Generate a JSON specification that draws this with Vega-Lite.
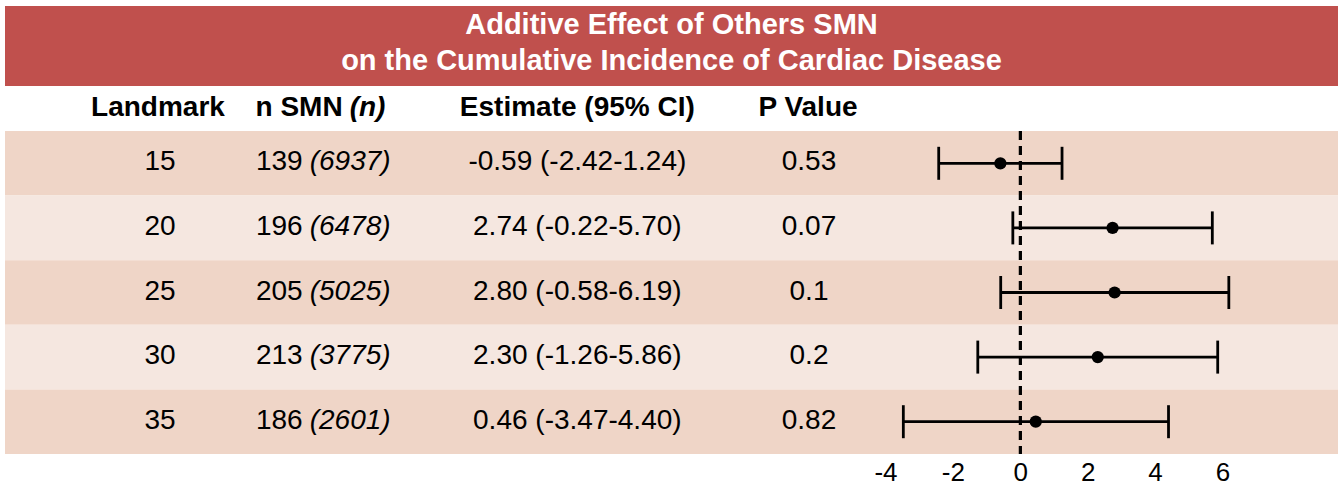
{
  "$schema": "https://vega.github.io/schema/vega-lite/v6.json",
  "padding": {"left": 5, "top": 6, "right": 0, "bottom": 0},
  "background": "white",
  "spacing": 0,
  "bounds": "flush",
  "config": {
    "view": {"stroke": null},
    "font": "Liberation Sans",
    "text": {"font": "Liberation Sans", "color": "black"},
    "axis": {"labelFont": "Liberation Sans"}
  },
  "resolve": {"scale": {"x": "independent", "y": "independent"}},
  "datasets": {
    "rows": [
      {"landmark": 15, "n": "139", "total": "(6937)", "ci": "-0.59 (-2.42-1.24)", "p": "0.53", "est": -0.59, "lo": -2.42, "hi": 1.24},
      {"landmark": 20, "n": "196", "total": "(6478)", "ci": "2.74 (-0.22-5.70)", "p": "0.07", "est": 2.74, "lo": -0.22, "hi": 5.70},
      {"landmark": 25, "n": "205", "total": "(5025)", "ci": "2.80 (-0.58-6.19)", "p": "0.1", "est": 2.80, "lo": -0.58, "hi": 6.19},
      {"landmark": 30, "n": "213", "total": "(3775)", "ci": "2.30 (-1.26-5.86)", "p": "0.2", "est": 2.30, "lo": -1.26, "hi": 5.86},
      {"landmark": 35, "n": "186", "total": "(2601)", "ci": "0.46 (-3.47-4.40)", "p": "0.82", "est": 0.46, "lo": -3.47, "hi": 4.40}
    ]
  },
  "vconcat": [
    {
      "width": 1333,
      "height": 80,
      "view": {"fill": "#C0504D", "stroke": null},
      "data": {"values": [{}]},
      "mark": {
        "type": "text",
        "text": ["Additive Effect of Others SMN", "on the Cumulative Incidence of Cardiac Disease"],
        "fontSize": 29,
        "fontWeight": "bold",
        "color": "white",
        "lineHeight": 36,
        "align": "center",
        "baseline": "middle",
        "dy": -21
      },
      "encoding": {}
    },
    {
      "width": 1333,
      "height": 45,
      "data": {"values": [{}]},
      "layer": [
        {
          "mark": {"type": "text", "text": "Landmark", "fontWeight": "bold", "fontSize": 28, "align": "center", "baseline": "middle", "dy": -1},
          "encoding": {"x": {"datum": "Landmark", "type": "nominal", "scale": {"type": "point", "domain": ["Landmark", "n", "est", "p"], "range": [153, 803], "padding": 0}, "axis": null}}
        },
        {
          "mark": {"type": "text", "text": "n SMN", "fontWeight": "bold", "fontSize": 28, "align": "right", "baseline": "middle", "dy": -1, "dx": -32},
          "encoding": {"x": {"datum": "n", "type": "nominal", "axis": null}}
        },
        {
          "mark": {"type": "text", "text": "(n)", "fontWeight": "bold", "fontStyle": "italic", "fontSize": 28, "align": "left", "baseline": "middle", "dy": -1, "dx": -25},
          "encoding": {"x": {"datum": "n", "type": "nominal", "axis": null}}
        },
        {
          "mark": {"type": "text", "text": "Estimate (95% CI)", "fontWeight": "bold", "fontSize": 28, "align": "center", "baseline": "middle", "dy": -1, "dx": -14},
          "encoding": {"x": {"datum": "est", "type": "nominal", "axis": null}}
        },
        {
          "mark": {"type": "text", "text": "P Value", "fontWeight": "bold", "fontSize": 28, "align": "center", "baseline": "middle", "dy": -1},
          "encoding": {"x": {"datum": "p", "type": "nominal", "axis": null}}
        }
      ]
    },
    {
      "width": 1333,
      "height": 323,
      "data": {"name": "rows"},
      "resolve": {"scale": {"x": "independent"}},
      "layer": [
        {
          "layer": [
            {
              "mark": {"type": "rect"},
              "encoding": {
                "y": {"field": "landmark", "type": "ordinal", "scale": {"paddingInner": 0, "paddingOuter": 0}, "axis": null},
                "color": {"field": "landmark", "type": "ordinal", "scale": {"domain": [15, 20, 25, 30, 35], "range": ["#EFD5C7", "#F5E7E0", "#EFD5C7", "#F5E7E0", "#EFD5C7"]}, "legend": null}
              }
            },
            {
              "mark": {"type": "text", "fontSize": 28, "align": "center", "baseline": "middle", "dy": -1, "dx": 2},
              "encoding": {
                "x": {"datum": "Landmark", "type": "nominal", "scale": {"type": "point", "domain": ["Landmark", "n", "est", "p"], "range": [153, 803], "padding": 0}, "axis": null},
                "y": {"field": "landmark", "type": "ordinal", "axis": null},
                "text": {"field": "landmark", "type": "nominal"}
              }
            },
            {
              "mark": {"type": "text", "fontSize": 28, "align": "right", "baseline": "middle", "dy": -1, "dx": -72},
              "encoding": {
                "x": {"datum": "n", "type": "nominal", "axis": null},
                "y": {"field": "landmark", "type": "ordinal", "axis": null},
                "text": {"field": "n", "type": "nominal"}
              }
            },
            {
              "mark": {"type": "text", "fontSize": 28, "fontStyle": "italic", "align": "left", "baseline": "middle", "dy": -1, "dx": -65},
              "encoding": {
                "x": {"datum": "n", "type": "nominal", "axis": null},
                "y": {"field": "landmark", "type": "ordinal", "axis": null},
                "text": {"field": "total", "type": "nominal"}
              }
            },
            {
              "mark": {"type": "text", "fontSize": 28, "align": "center", "baseline": "middle", "dy": -1, "dx": -14},
              "encoding": {
                "x": {"datum": "est", "type": "nominal", "axis": null},
                "y": {"field": "landmark", "type": "ordinal", "axis": null},
                "text": {"field": "ci", "type": "nominal"}
              }
            },
            {
              "mark": {"type": "text", "fontSize": 28, "align": "center", "baseline": "middle", "dy": -1, "dx": 1},
              "encoding": {
                "x": {"datum": "p", "type": "nominal", "axis": null},
                "y": {"field": "landmark", "type": "ordinal", "axis": null},
                "text": {"field": "p", "type": "nominal"}
              }
            }
          ]
        },
        {
          "layer": [
            {
              "mark": {"type": "rule", "color": "black", "strokeWidth": 2.6, "strokeDash": [9, 6]},
              "encoding": {
                "x": {
                  "datum": 0,
                  "type": "quantitative",
                  "scale": {"domain": [-30.13, 9.43], "nice": false, "zero": false},
                  "axis": {"values": [-4, -2, 0, 2, 4, 6], "labelExpr": "datum.value + ''", "domain": false, "ticks": false, "grid": false, "title": null, "labelFontSize": 26, "labelColor": "black", "labelPadding": 5, "labelFont": "Liberation Sans"}
                }
              }
            },
            {
              "mark": {"type": "rule", "color": "black", "strokeWidth": 2.8},
              "encoding": {
                "x": {"field": "lo", "type": "quantitative"},
                "x2": {"field": "hi"},
                "y": {"field": "landmark", "type": "ordinal", "axis": null}
              }
            },
            {
              "mark": {"type": "tick", "color": "black", "thickness": 2.8, "size": 33, "orient": "vertical", "opacity": 1},
              "encoding": {
                "x": {"field": "lo", "type": "quantitative"},
                "y": {"field": "landmark", "type": "ordinal", "axis": null}
              }
            },
            {
              "mark": {"type": "tick", "color": "black", "thickness": 2.8, "size": 33, "orient": "vertical", "opacity": 1},
              "encoding": {
                "x": {"field": "hi", "type": "quantitative"},
                "y": {"field": "landmark", "type": "ordinal", "axis": null}
              }
            },
            {
              "mark": {"type": "point", "filled": true, "color": "black", "size": 150, "opacity": 1},
              "encoding": {
                "x": {"field": "est", "type": "quantitative"},
                "y": {"field": "landmark", "type": "ordinal", "axis": null}
              }
            }
          ]
        }
      ]
    }
  ]
}
